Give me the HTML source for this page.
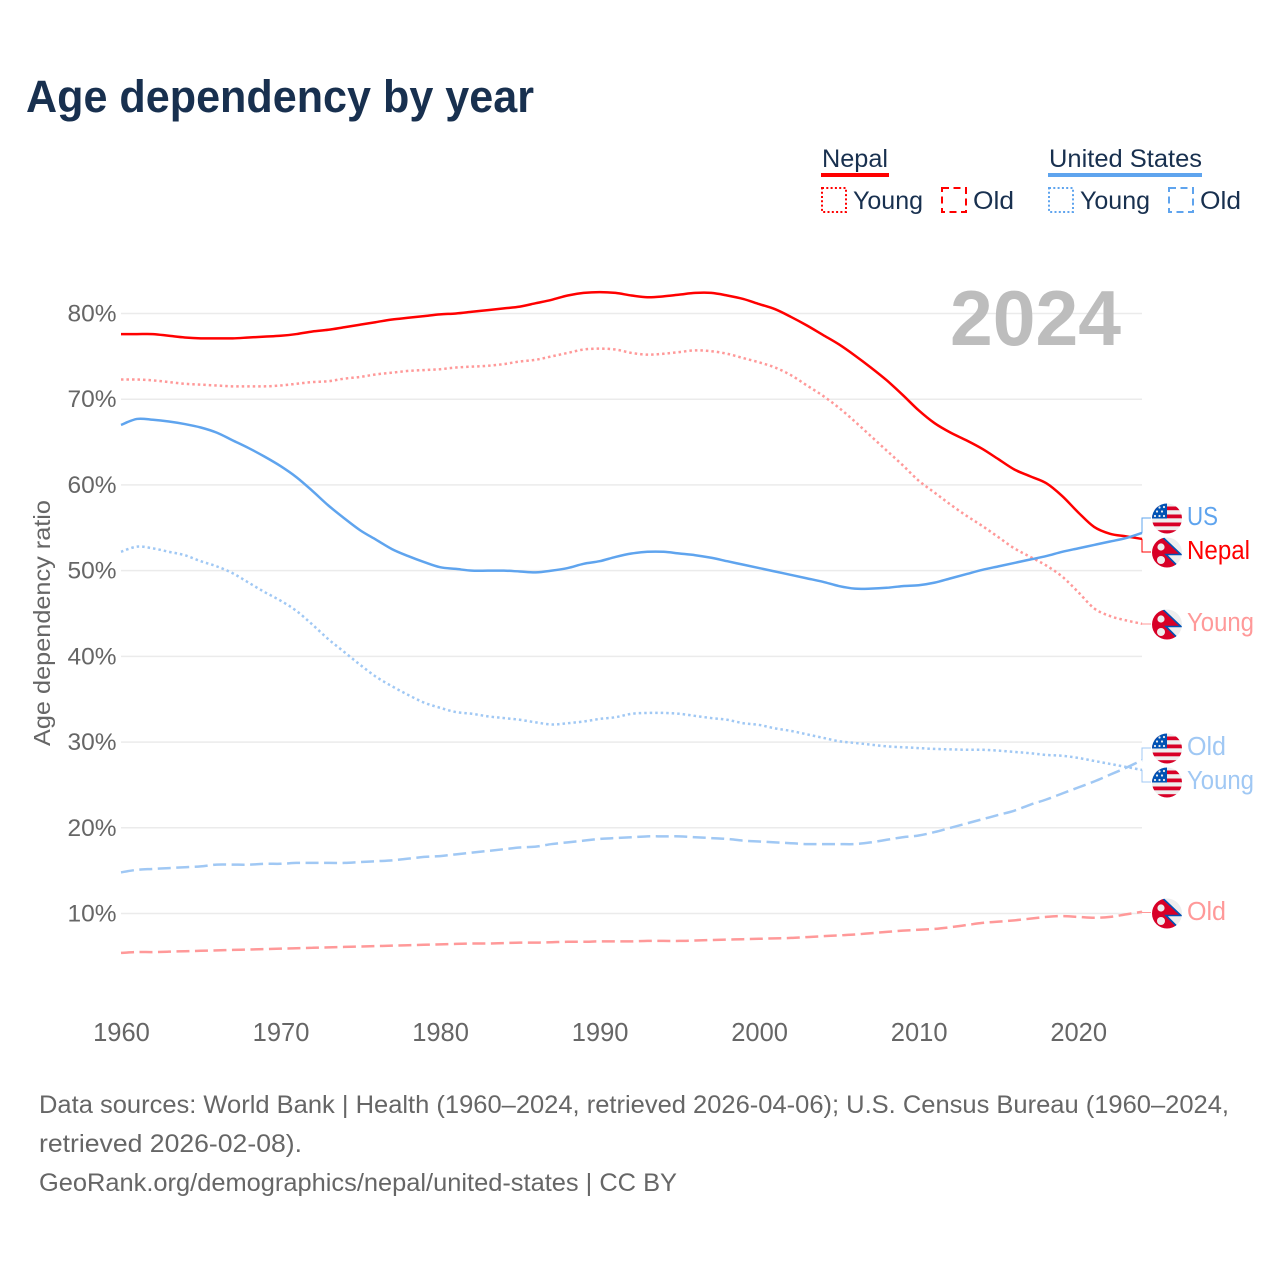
<!DOCTYPE html>
<html lang="en">
<head>
<meta charset="utf-8">
<title>Age dependency by year</title>
<style>
html,body{margin:0;padding:0;background:#fff}
svg{display:block}
text{font-family:"Liberation Sans",sans-serif}
</style>
</head>
<body>
<svg id="chart" xmlns="http://www.w3.org/2000/svg" width="1280" height="1280" viewBox="0 0 1280 1280">
<defs>
<clipPath id="flag-clip"><circle cx="15" cy="15" r="15"/></clipPath>
<symbol id="flag-us" width="30" height="31" viewBox="0 0 30 30" overflow="visible">
<g clip-path="url(#flag-clip)">
<rect width="30" height="30" fill="#eeeeee"/>
<rect y="3" width="30" height="3.7" fill="#d80027"/>
<rect y="11" width="30" height="3.8" fill="#d80027"/>
<rect y="19" width="30" height="3.8" fill="#d80027"/>
<rect y="26.7" width="30" height="4" fill="#d80027"/>
<rect width="15" height="15" fill="#0052b4"/>
<g fill="#eeeeee"><circle cx="3" cy="12.5" r="1.1"/><circle cx="7.5" cy="12.5" r="1.1"/><circle cx="12" cy="12.5" r="1.1"/><circle cx="5" cy="8" r="1.1"/><circle cx="10" cy="8" r="1.1"/><circle cx="7.5" cy="4" r="1.1"/><circle cx="12" cy="3.5" r="1.1"/></g>
</g>
</symbol>
<symbol id="flag-np" width="30" height="31" viewBox="0 0 30 30" overflow="visible">
<g clip-path="url(#flag-clip)">
<rect width="30" height="30" fill="#eeeeee"/>
<polygon points="0,0 11,0 29,17 14,17 26,29 26,30 0,30" fill="#d80027"/>
<polyline points="11,0 29,17 14,17 26,29" fill="none" stroke="#0052b4" stroke-width="1.6"/>
<circle cx="9" cy="9.5" r="3.6" fill="#eeeeee"/>
<circle cx="9" cy="22.5" r="4" fill="#eeeeee"/>
</g>
</symbol>
</defs>

<text x="26" y="112" font-size="45" font-weight="700" fill="#18304f" textLength="508" lengthAdjust="spacingAndGlyphs">Age dependency by year</text>

<g id="grid"></g>
<g id="yticks"></g>
<g id="xticks"></g>

<text transform="translate(50,746) rotate(-90)" font-size="23.5" fill="#666666" textLength="246" lengthAdjust="spacingAndGlyphs">Age dependency ratio</text>

<text x="950" y="345" font-size="78" font-weight="700" fill="#bdbdbd" textLength="171" lengthAdjust="spacingAndGlyphs">2024</text>

<g id="series"></g>

<g font-size="25" fill="#18304f">
<text x="822" y="167" textLength="66" lengthAdjust="spacingAndGlyphs">Nepal</text>
<rect x="821" y="173" width="68" height="4" fill="#ff0000"/>
<rect x="822" y="188" width="24" height="24" fill="none" stroke="#ff0000" stroke-width="2" stroke-dasharray="2 2.3"/>
<text x="853" y="209" textLength="70" lengthAdjust="spacingAndGlyphs">Young</text>
<rect x="942" y="188" width="24" height="24" fill="none" stroke="#ff0000" stroke-width="2" stroke-dasharray="7 4.5"/>
<text x="973" y="209" textLength="41" lengthAdjust="spacingAndGlyphs">Old</text>
<text x="1049" y="167" textLength="153" lengthAdjust="spacingAndGlyphs">United States</text>
<rect x="1048" y="173" width="154" height="4" fill="#5fa4ee"/>
<rect x="1049" y="188" width="24" height="24" fill="none" stroke="#5fa4ee" stroke-width="2" stroke-dasharray="2 2.3"/>
<text x="1080" y="209" textLength="70" lengthAdjust="spacingAndGlyphs">Young</text>
<rect x="1169" y="188" width="24" height="24" fill="none" stroke="#5fa4ee" stroke-width="2" stroke-dasharray="7 4.5"/>
<text x="1200" y="209" textLength="41" lengthAdjust="spacingAndGlyphs">Old</text>
</g>

<g id="leaders"></g>

<g font-size="25.5">
<use href="#flag-us" x="1152" y="503"/>
<text x="1187" y="525" fill="#5fa4ee" textLength="31" lengthAdjust="spacingAndGlyphs">US</text>
<use href="#flag-np" x="1152" y="537"/>
<text x="1187" y="559" fill="#ff0000" textLength="63" lengthAdjust="spacingAndGlyphs">Nepal</text>
<use href="#flag-np" x="1152" y="609"/>
<text x="1187" y="631" fill="#ff9999" textLength="67" lengthAdjust="spacingAndGlyphs">Young</text>
<use href="#flag-us" x="1152" y="733"/>
<text x="1187" y="755" fill="#a0c8f4" textLength="39" lengthAdjust="spacingAndGlyphs">Old</text>
<use href="#flag-us" x="1152" y="767"/>
<text x="1187" y="789" fill="#a0c8f4" textLength="67" lengthAdjust="spacingAndGlyphs">Young</text>
<use href="#flag-np" x="1152" y="898"/>
<text x="1187" y="920" fill="#ff9999" textLength="39" lengthAdjust="spacingAndGlyphs">Old</text>
</g>

<g font-size="25" fill="#666666">
<text x="39" y="1113" textLength="1190" lengthAdjust="spacingAndGlyphs">Data sources: World Bank | Health (1960–2024, retrieved 2026-04-06); U.S. Census Bureau (1960–2024,</text>
<text x="39" y="1152" textLength="263" lengthAdjust="spacingAndGlyphs">retrieved 2026-02-08).</text>
<text x="39" y="1191" textLength="638" lengthAdjust="spacingAndGlyphs">GeoRank.org/demographics/nepal/united-states | CC BY</text>
</g>
</svg>

<script>
const startYear = 1960;
const xTickYears = [1960, 1970, 1980, 1990, 2000, 2010, 2020];
const xTickLabels = ["1960", "1970", "1980", "1990", "2000", "2010", "2020"];
const yTickValues = [10, 20, 30, 40, 50, 60, 70, 80];
const yTickLabels = ["10%", "20%", "30%", "40%", "50%", "60%", "70%", "80%"];

const nepalTotal = [
  77.6,77.6,77.6,77.4,77.2,77.1,77.1,77.1,77.2,77.3,
  77.4,77.6,77.9,78.1,78.4,78.7,79.0,79.3,79.5,79.7,
  79.9,80.0,80.2,80.4,80.6,80.8,81.2,81.6,82.1,82.4,
  82.5,82.4,82.1,81.9,82.0,82.2,82.4,82.4,82.1,81.7,
  81.1,80.5,79.6,78.6,77.5,76.4,75.1,73.7,72.2,70.5,
  68.7,67.2,66.1,65.2,64.2,63.0,61.8,61.0,60.2,58.7,
  56.8,55.1,54.3,54.0,53.7
];
const nepalYoung = [
  72.3,72.3,72.2,72.0,71.8,71.7,71.6,71.5,71.5,71.5,
  71.6,71.8,72.0,72.1,72.4,72.6,72.9,73.1,73.3,73.4,
  73.5,73.7,73.8,73.9,74.1,74.4,74.6,75.0,75.4,75.8,
  75.9,75.8,75.4,75.2,75.3,75.5,75.7,75.6,75.3,74.8,
  74.3,73.7,72.8,71.6,70.4,69.0,67.4,65.7,64.0,62.3,
  60.5,59.1,57.7,56.4,55.2,53.9,52.6,51.6,50.6,49.3,
  47.5,45.6,44.7,44.2,43.8
];
const nepalOld = [
  5.4,5.5,5.5,5.55,5.6,5.65,5.7,5.75,5.8,5.85,
  5.9,5.95,6,6.05,6.1,6.15,6.2,6.25,6.3,6.35,
  6.4,6.45,6.5,6.5,6.55,6.6,6.6,6.65,6.7,6.7,
  6.75,6.75,6.75,6.8,6.8,6.8,6.85,6.9,6.95,7,
  7.05,7.1,7.15,7.25,7.35,7.45,7.55,7.7,7.85,8,
  8.1,8.2,8.4,8.65,8.9,9.05,9.2,9.4,9.6,9.7,
  9.6,9.5,9.6,9.9,10.2
];
const usTotal = [
  67.0,67.7,67.6,67.4,67.1,66.7,66.1,65.2,64.3,63.3,
  62.2,60.9,59.3,57.6,56.1,54.7,53.6,52.5,51.7,51.0,
  50.4,50.2,50.0,50.0,50.0,49.9,49.8,50.0,50.3,50.8,
  51.1,51.6,52.0,52.2,52.2,52.0,51.8,51.5,51.1,50.7,
  50.3,49.9,49.5,49.1,48.7,48.2,47.9,47.9,48.0,48.2,
  48.3,48.6,49.1,49.6,50.1,50.5,50.9,51.3,51.7,52.2,
  52.6,53.0,53.4,53.8,54.4
];
const usYoung = [
  52.2,52.8,52.6,52.2,51.8,51.1,50.5,49.7,48.6,47.5,
  46.5,45.3,43.7,42.0,40.5,39.0,37.6,36.5,35.5,34.6,
  34.0,33.5,33.3,33.0,32.8,32.6,32.3,32.05,32.2,32.4,
  32.7,32.9,33.3,33.4,33.4,33.3,33.05,32.8,32.6,32.2,
  32.0,31.6,31.3,30.9,30.5,30.1,29.9,29.7,29.5,29.4,
  29.3,29.2,29.15,29.1,29.1,29.0,28.85,28.7,28.5,28.4,
  28.15,27.8,27.45,27.1,26.75
];
const usOld = [
  14.8,15.1,15.2,15.3,15.4,15.5,15.7,15.7,15.7,15.8,
  15.8,15.9,15.9,15.9,15.9,16.0,16.1,16.2,16.4,16.6,
  16.7,16.9,17.1,17.3,17.5,17.7,17.8,18.1,18.3,18.5,
  18.7,18.8,18.9,19.0,19.0,19.0,18.9,18.8,18.7,18.5,
  18.4,18.3,18.2,18.1,18.1,18.1,18.1,18.3,18.6,18.9,
  19.1,19.5,20.0,20.5,21.0,21.5,22.0,22.7,23.3,24.0,
  24.7,25.4,26.2,27.0,27.9
];

const SVG_NS = "http://www.w3.org/2000/svg";
function xScale(year) { return 121 + (year - 1960) * (1142 - 121) / 64; }
function yScale(value) { return 913.5 - (value - 10) * (913.5 - 313.5) / 70; }
function make(tag, parent, attrs) {
  const el = document.createElementNS(SVG_NS, tag);
  Object.keys(attrs).forEach(function (k) { el.setAttribute(k, attrs[k]); });
  parent.appendChild(el);
  return el;
}

const gridGroup = document.getElementById("grid");
const yGroup = document.getElementById("yticks");
yTickValues.forEach(function (v, i) {
  const line = make("line", gridGroup, { x1: 121, x2: 1142, y1: yScale(v), y2: yScale(v), stroke: "#ebebeb", "stroke-width": 1.5 });
  
  
  const label = make("text", yGroup, { x: 116.5, y: yScale(v) + 8, "text-anchor": "end", "font-size": 24.5, fill: "#666666" });
  label.textContent = yTickLabels[i];
  
  
});

const xGroup = document.getElementById("xticks");
xTickYears.forEach(function (yr, i) {
  const label = make("text", xGroup, { x: xScale(yr) + 0.5, y: 1041, "text-anchor": "middle", "font-size": 25.5, fill: "#666666" });
  label.textContent = xTickLabels[i];
  
  
});

function smoothPath(values) {
  const p = values.map(function (v, i) { return [xScale(startYear + i), yScale(v)]; });
  let d = "M" + p[0][0].toFixed(2) + " " + p[0][1].toFixed(2);
  for (let i = 0; i < p.length - 1; i++) {
    const a = p[Math.max(i - 1, 0)], b = p[i], c = p[i + 1], e = p[Math.min(i + 2, p.length - 1)];
    const c1x = b[0] + (c[0] - a[0]) / 6, c1y = b[1] + (c[1] - a[1]) / 6;
    const c2x = c[0] - (e[0] - b[0]) / 6, c2y = c[1] - (e[1] - b[1]) / 6;
    d += "C" + c1x.toFixed(2) + " " + c1y.toFixed(2) + " " + c2x.toFixed(2) + " " + c2y.toFixed(2) + " " + c[0].toFixed(2) + " " + c[1].toFixed(2);
  }
  return d;
}
function drawSeries(values, color, dash) {
  return make("path", document.getElementById("series"), {
    d: smoothPath(values), fill: "none", stroke: color, "stroke-width": 2.5,
    "stroke-linejoin": "round", "stroke-dasharray": dash
  });
}
const lineUsOld = drawSeries(usOld, "#a0c8f4", "13 5.5");


const lineUsYoung = drawSeries(usYoung, "#a0c8f4", "2.5 3");


const lineNepalOld = drawSeries(nepalOld, "#ff9999", "13 5.5");


const lineNepalYoung = drawSeries(nepalYoung, "#ff9999", "2.5 3");


const lineNepalTotal = drawSeries(nepalTotal, "#ff0000", "none");


const lineUsTotal = drawSeries(usTotal, "#5fa4ee", "none");



function drawLeader(values, labelY, color) {
  const endY = yScale(values[values.length - 1]);
  const pts = [[1142, endY], [1142, labelY], [1151, labelY]].map(function (p) { return p.join(","); }).join(" ");
  return make("polyline", document.getElementById("leaders"), { points: pts, fill: "none", stroke: color, "stroke-width": 1 });
}
const leaderUsTotal = drawLeader(usTotal, 518, "#5fa4ee");


const leaderNepalTotal = drawLeader(nepalTotal, 552, "#ff0000");


const leaderNepalYoung = drawLeader(nepalYoung, 624, "#ff9999");


const leaderUsOld = drawLeader(usOld, 748, "#a0c8f4");


const leaderUsYoung = drawLeader(usYoung, 782, "#a0c8f4");


const leaderNepalOld = drawLeader(nepalOld, 912.5, "#ff9999");


</script>
</body>
</html>
